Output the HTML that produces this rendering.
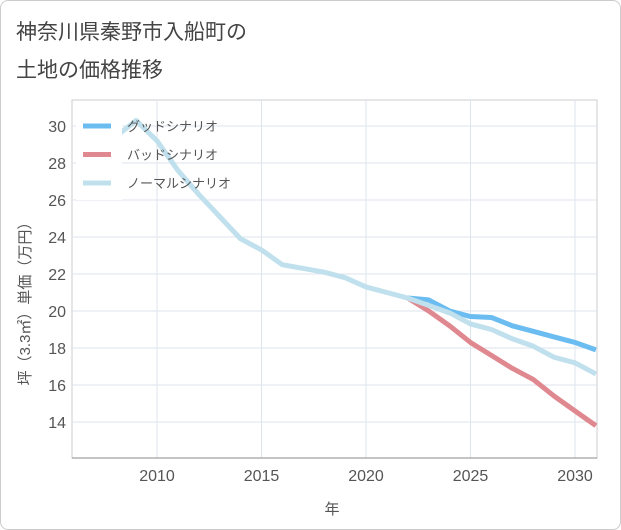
<!DOCTYPE html>
<html><head><meta charset="utf-8"><style>
body{margin:0;background:#fff;font-family:"Liberation Sans","Noto Sans CJK JP",sans-serif}
.wrap{position:relative;width:619px;height:528px;border:1px solid #ccc;border-radius:8px;overflow:hidden}
</style></head><body>
<div class="wrap">
<svg width="621" height="530" style="position:absolute;left:-1px;top:-1px">
<text x="16" y="39" font-size="21" fill="#444">神奈川県秦野市入船町の</text>
<text x="16" y="77" font-size="21" fill="#444">土地の価格推移</text>
<g id="grid"></g>
<g id="series"></g>
<g id="legend"></g>
<text x="332" y="514" font-size="15" fill="#555" text-anchor="middle">年</text>
<text transform="translate(30,300) rotate(-90)" font-size="15" fill="#555" text-anchor="middle">坪（3.3㎡）単価（万円）</text>
</svg>
</div>
<script>
const years=[2008,2009,2010,2011,2012,2013,2014,2015,2016,2017,2018,2019,2020,2021,2022,2023,2024,2025,2026,2027,2028,2029,2030,2031];
const normal=[29.4,30.3,29.2,27.6,26.3,25.1,23.9,23.3,22.5,22.3,22.1,21.8,21.3,21.0,20.7,20.3,19.9,19.3,19.0,18.5,18.1,17.5,17.2,16.6];
const futureYears=[2022,2023,2024,2025,2026,2027,2028,2029,2030,2031];
const good=[20.7,20.6,20.0,19.7,19.65,19.2,18.9,18.6,18.3,17.9];
const bad=[20.7,20.0,19.2,18.3,17.6,16.9,16.3,15.4,14.6,13.8];
const xTicks=[2010,2015,2020,2025,2030];
const yTicks=[14,16,18,20,22,24,26,28,30];
const X0=72,X1=597,Y0=100,Y1=458;
const xs=y=>157+(y-2010)*20.9;
const ys=v=>126+(30-v)*18.5;
const NS="http://www.w3.org/2000/svg";
function mk(t,a,p){const e=document.createElementNS(NS,t);for(const k in a)e.setAttribute(k,a[k]);p.appendChild(e);return e;}
const grid=document.getElementById('grid');
const frame=mk('rect',{x:X0,y:Y0,width:X1-X0,height:Y1-Y0,fill:'none',stroke:'#ccc'},grid);


yTicks.forEach(v=>{
 const l=mk('line',{x1:X0,x2:X1,y1:ys(v),y2:ys(v),stroke:'#dde5ec'},grid);
 
 
 const t=mk('text',{x:66,y:ys(v)+6,'font-size':16,fill:'#555','text-anchor':'end'},grid);t.textContent=v;
 
 
});
xTicks.forEach(y=>{
 const l=mk('line',{x1:xs(y),x2:xs(y),y1:Y0,y2:Y1,stroke:'#dde5ec'},grid);
 
 
 const t=mk('text',{x:xs(y),y:481,'font-size':16,fill:'#555','text-anchor':'middle'},grid);t.textContent=y;
 
 
});
const ax=mk('line',{x1:X0,x2:X1,y1:Y1,y2:Y1,stroke:'#888'},grid);


const S=document.getElementById('series');
function line(xv,yv,c,name){
 const p=mk('polyline',{points:xv.map((x,i)=>xs(x)+','+ys(yv[i])).join(' '),fill:'none',stroke:c,'stroke-width':5,'stroke-linejoin':'round'},S);
 
 
}
line(futureYears,bad,'#e08890','bad-scenario-line');
line(futureYears,good,'#6bbcf0','good-scenario-line');
line(years,normal,'#bfe0ec','normal-scenario-line');
const L=document.getElementById('legend');
const bg=mk('rect',{x:76,y:105,width:46,height:95,fill:'#fff'},L);


[['グッドシナリオ','#6bbcf0'],['バッドシナリオ','#e08890'],['ノーマルシナリオ','#bfe0ec']].forEach((d,i)=>{
 const y=126+i*28.5;
 const g=mk('g',{},L);
 
 
 mk('line',{x1:83,x2:111,y1:y,y2:y,stroke:d[1],'stroke-width':5},g);
 const t=mk('text',{x:127,y:y+5,'font-size':13,fill:'#555'},g);t.textContent=d[0];
});
</script>
</body></html>
